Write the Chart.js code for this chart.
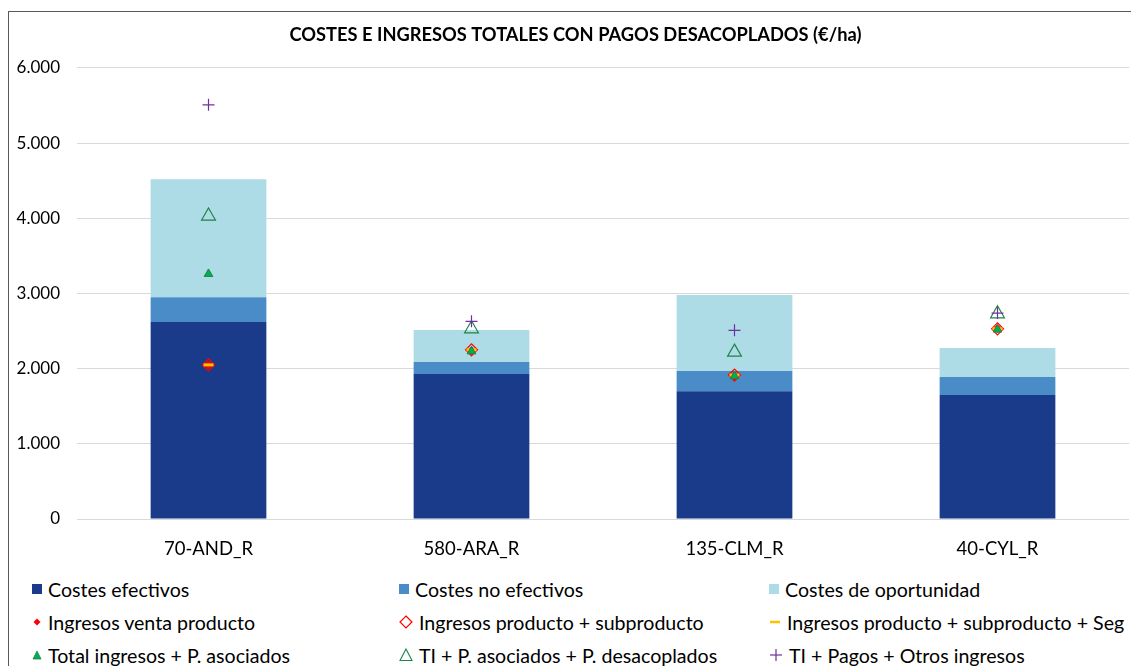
<!DOCTYPE html>
<html>
<head>
<meta charset="utf-8">
<script src="https://cdn.jsdelivr.net/npm/chart.js@4/dist/chart.umd.min.js"></script>
<style>
  html, body { margin: 0; padding: 0; background: #fff; }
  body { width: 1131px; height: 666px; position: relative; overflow: hidden; font-family: Lato, "Open Sans", sans-serif; }
  #frame { position: absolute; left: 8px; top: 11px; width: 1140px; height: 700px; border: 1px solid #595959; box-sizing: border-box; }
  #wrap { position: absolute; left: 0; top: 0; width: 1151px; height: 570px; }
  .lg { position: absolute; display: flex; align-items: center; font-size: 19.6px; color: #000; white-space: nowrap; height: 24px; }
  .lg svg { margin-right: 6px; }
</style>
</head>
<body>
<div id="frame"></div>
<div id="wrap"><canvas id="c" width="1151" height="570"></canvas></div>
<div id="legend"></div>
<script>
const categories = ['70-AND_R', '580-ARA_R', '135-CLM_R', '40-CYL_R'];
const costesEfectivos = [2620, 1930, 1700, 1650];
const costesNoEfectivos = [330, 160, 270, 240];
const costesOportunidad = [1570, 425, 1010, 385];
const ingresosVentaProducto = [2050, 2240, 1910, 2530];
const ingresosProductoSubproducto = [2050, 2250, 1915, 2530];
const ingresosProductoSubproductoSeg = [2050, 2250, 1915, 2530];
const totalIngresosPAsociados = [3260, 2230, 1900, 2520];
const tiPAsociadosPDesacoplados = [4030, 2530, 2220, 2730];
const tiPagosOtrosIngresos = [5510, 2630, 2510, 2740];
const yTickValues = [0, 1000, 2000, 3000, 4000, 5000, 6000];

const seriesNames = [
  'Costes efectivos', 'Costes no efectivos', 'Costes de oportunidad',
  'Ingresos venta producto', 'Ingresos producto + subproducto', 'Ingresos producto + subproducto + Seg',
  'Total ingresos + P. asociados', 'TI + P. asociados + P. desacoplados', 'TI + Pagos + Otros ingresos'
];

const C_DARK = '#1A3A8A', C_MID = '#4A8CC8', C_LIGHT = '#ADDBE6';
const RED = '#FF0000', ORANGE = '#FFC000', GREEN = '#00B050', GREEN_D = '#1E8449', PURPLE = '#7030A0';

function fmt(v) { return String(v).replace(/\B(?=(\d{3})+(?!\d))/g, '.'); }

const barCommon = { type: 'bar', stack: 'costes', categoryPercentage: 1, barPercentage: 0.44, order: 20, borderWidth: 0 };
function pts(label, data, extra, stackId, order) {
  return Object.assign({ type: 'line', label, data, showLine: false, stack: stackId, order, pointHoverRadius: 0 }, extra);
}

// shift the title box so that it is centred like the original
const titleShift = {
  id: 'titleShift',
  afterLayout(chart) { if (chart.titleBlock) { chart.titleBlock.left += 22; } }
};

const chart = new Chart(document.getElementById('c'), {
  plugins: [titleShift],
  data: {
    labels: categories,
    datasets: [
      Object.assign({ label: seriesNames[0], data: costesEfectivos, backgroundColor: C_DARK }, barCommon),
      Object.assign({ label: seriesNames[1], data: costesNoEfectivos, backgroundColor: C_MID }, barCommon),
      Object.assign({ label: seriesNames[2], data: costesOportunidad, backgroundColor: C_LIGHT }, barCommon),
      pts(seriesNames[3], ingresosVentaProducto, { pointStyle: 'rectRot', pointRadius: 4, pointBackgroundColor: RED, pointBorderColor: RED, pointBorderWidth: 1 }, 's3', 6),
      pts(seriesNames[4], ingresosProductoSubproducto, { pointStyle: 'rectRot', pointRadius: 6, pointBackgroundColor: 'rgba(0,0,0,0)', pointBorderColor: RED, pointBorderWidth: 1.2 }, 's4', 5),
      pts(seriesNames[5], ingresosProductoSubproductoSeg, { pointStyle: 'line', pointRadius: 5, pointBorderColor: ORANGE, pointBorderWidth: 3 }, 's5', 4),
      pts(seriesNames[6], totalIngresosPAsociados, { pointStyle: 'triangle', pointRadius: 5, pointBackgroundColor: GREEN, pointBorderColor: GREEN_D, pointBorderWidth: 1 }, 's6', 3),
      pts(seriesNames[7], tiPAsociadosPDesacoplados, { pointStyle: 'triangle', pointRadius: 8, pointBackgroundColor: 'rgba(0,0,0,0)', pointBorderColor: GREEN_D, pointBorderWidth: 1.2 }, 's7', 2),
      pts(seriesNames[8], tiPagosOtrosIngresos, { pointStyle: 'cross', pointRadius: 6, pointBorderColor: PURPLE, pointBorderWidth: 1.2 }, 's8', 1)
    ]
  },
  options: {
    responsive: false,
    animation: false,
    events: [],
    layout: { padding: { left: 0, right: 22, top: 0, bottom: 0 } },
    plugins: {
      legend: { display: false },
      tooltip: { enabled: false },
      title: {
        display: true,
        text: 'COSTES E INGRESOS TOTALES CON PAGOS DESACOPLADOS (€/ha)',
        color: '#000',
        font: { family: 'Lato', size: 18.3, weight: 'bold' },
        padding: { top: 24, bottom: 22 }
      }
    },
    scales: {
      x: {
        stacked: true,
        grid: { display: false, drawTicks: false },
        border: { display: false },
        ticks: { color: '#000', padding: 19, font: { family: 'Lato', size: 18.5 } },
        afterFit(s) { s.height = 51; }
      },
      y: {
        stacked: true,
        min: 0, max: 6000,
        afterBuildTicks(s) { s.ticks = yTickValues.map(v => ({ value: v })); },
        grid: { color: '#D9D9D9', lineWidth: 1, drawTicks: false },
        border: { display: false },
        ticks: { color: '#000', padding: 17, font: { family: 'Lato', size: 17 }, callback: v => fmt(v) },
        afterFit(s) { s.width = 77; }
      }
    }
  }
});

// HTML legend in 3 columns
const markers = [
  '<svg width="10" height="10"><rect x="0" y="0" width="10" height="10" fill="' + C_DARK + '"/></svg>',
  '<svg width="10" height="10"><rect x="0" y="0" width="10" height="10" fill="' + C_MID + '"/></svg>',
  '<svg width="10" height="10"><rect x="0" y="0" width="10" height="10" fill="' + C_LIGHT + '"/></svg>',
  '<svg width="10" height="10"><polygon points="5,1.5 8.5,5 5,8.5 1.5,5" fill="' + RED + '"/></svg>',
  '<svg width="14" height="14"><polygon points="7,1 13,7 7,13 1,7" fill="none" stroke="' + RED + '" stroke-width="1.2"/></svg>',
  '<svg width="12" height="10"><line x1="1" y1="5" x2="11" y2="5" stroke="' + ORANGE + '" stroke-width="2.5"/></svg>',
  '<svg width="10" height="10"><polygon points="5,1 9,9 1,9" fill="' + GREEN + '" stroke="' + GREEN_D + '" stroke-width="0.8"/></svg>',
  '<svg width="14" height="14"><polygon points="7,1 13,12.5 1,12.5" fill="none" stroke="' + GREEN_D + '" stroke-width="1.1"/></svg>',
  '<svg width="14" height="14"><line x1="7" y1="1" x2="7" y2="13" stroke="' + PURPLE + '" stroke-width="1.2"/><line x1="1" y1="7" x2="13" y2="7" stroke="' + PURPLE + '" stroke-width="1.2"/></svg>'
];
const colX = [32, 399, 769];
const rowY = [589, 622, 655];
const lg = document.getElementById('legend');
seriesNames.forEach((name, i) => {
  const d = document.createElement('div');
  d.className = 'lg';
  d.style.left = colX[i % 3] + 'px';
  d.style.top = (rowY[Math.floor(i / 3)] - 12) + 'px';
  d.innerHTML = markers[i] + '<span>' + name + '</span>';
  lg.appendChild(d);
});
</script>
</body>
</html>
